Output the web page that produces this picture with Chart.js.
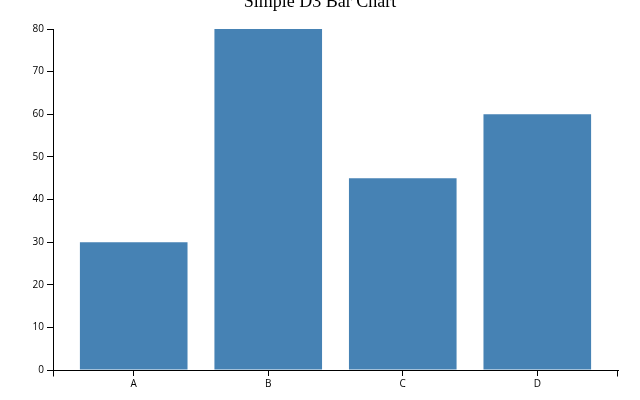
<!DOCTYPE html>
<html>
<head>
<meta charset="utf-8">
<script src="https://cdn.jsdelivr.net/npm/chart.js@4/dist/chart.umd.min.js"></script>
<style>
  html, body { margin: 0; padding: 0; background: #fff; }
  #wrap { position: relative; width: 640px; height: 400px; overflow: hidden; }
  #title { position: absolute; left: 0; width: 640px; top: -9px; text-align: center;
           font-family: "Liberation Serif", serif; font-size: 18px; color: #000; line-height: 20px; }
  canvas { position: absolute; left: 0; top: 0; }
</style>
</head>
<body>
<div id="wrap">
  <canvas id="c" width="640" height="400"></canvas>
  <div id="title">Simple D3 Bar Chart</div>
</div>
<script>
const categories = ['A', 'B', 'C', 'D'];
const values = [30, 80, 45, 60];
const yTicks = [0, 10, 20, 30, 40, 50, 60, 70, 80];

const outerTicks = {
  id: 'outerTicks',
  afterDraw(chart) {
    const ctx = chart.ctx;
    const a = chart.chartArea;
    ctx.save();
    ctx.strokeStyle = '#000';
    ctx.lineWidth = 1;
    ctx.beginPath();
    const l = Math.round(a.left) + 0.5;
    const r = Math.round(a.right) - 0.5;
    const b = Math.round(a.bottom) + 0.5;
    ctx.moveTo(l, b); ctx.lineTo(l, b + 6);
    ctx.moveTo(r, b - 0.5); ctx.lineTo(r, b + 6);
    ctx.stroke();
    ctx.restore();
  }
};

new Chart(document.getElementById('c'), {
  type: 'bar',
  data: {
    datasets: [{
      data: values.map((v, i) => ({ x: i, y: v })),
      backgroundColor: '#4682b4',
      borderWidth: 0,
      categoryPercentage: 1,
      barPercentage: 0.8
    }]
  },
  options: {
    responsive: false,
    animation: false,
    events: [],
    layout: { padding: { top: 29, right: 22, left: 0, bottom: 0 } },
    plugins: { legend: { display: false }, title: { display: false }, tooltip: { enabled: false } },
    scales: {
      x: {
        type: 'linear',
        offset: false,
        min: -0.6,
        max: 3.6,
        afterBuildTicks(scale) { scale.ticks = categories.map((_, i) => ({ value: i })); },
        afterFit(scale) { scale.height = 30; },
        ticks: {
          callback: (v) => categories[v],
          color: '#000',
          padding: 2,
          maxRotation: 0,
          autoSkip: false,
          font: { family: 'Open Sans', size: 10 }
        },
        grid: { drawOnChartArea: false, tickLength: 6, color: '#000', offset: false },
        border: { color: '#000', width: 1 }
      },
      y: {
        min: 0,
        max: 80,
        afterBuildTicks(scale) { scale.ticks = yTicks.map(v => ({ value: v })); },
        afterFit(scale) { scale.width = 53; },
        ticks: {
          color: '#000',
          padding: 3,
          font: { family: 'Open Sans', size: 10 }
        },
        grid: { drawOnChartArea: false, tickLength: 6, color: '#000' },
        border: { color: '#000', width: 1 }
      }
    }
  },
  plugins: [outerTicks]
});
</script>
</body>
</html>
